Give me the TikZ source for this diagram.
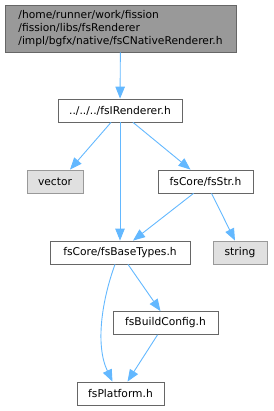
\documentclass[tikz,border=0pt]{standalone}
\usepackage{fontspec}
\setmainfont{DejaVu Sans}
\usetikzlibrary{arrows.meta}
\definecolor{edgeblue}{HTML}{63B8FF}
\definecolor{rootfill}{HTML}{999999}
\definecolor{sysfill}{HTML}{E0E0E0}
\definecolor{boxline}{HTML}{666666}
\begin{document}
\begin{tikzpicture}[x=1pt, y=-1pt,
    every node/.style={font=\fontsize{10.7}{12.8}\selectfont, inner sep=0pt, minimum height=23pt},
    header/.style={draw=boxline, fill=white, line width=0.8pt},
    rootbox/.style={header, fill=rootfill, align=left, minimum width=231pt, minimum height=47pt},
    sysbox/.style={draw=rootfill, fill=sysfill, line width=0.8pt},
    dep/.style={draw=edgeblue, line width=0.9pt, -{Triangle[length=12pt, width=9.5pt]}}]
      \useasboundingbox (0,0) rectangle (273,411);
      \node[rootbox] (root) at (120.5,28.5) {/home/runner/work/fission\\/fission/libs/fsRenderer\\/impl/bgfx/native/fsCNativeRenderer.h};
      \node[header, minimum width=124pt] (irend) at (120,110.5) {../../../fsIRenderer.h};
      \node[sysbox, minimum width=56pt] (vector) at (55,181.5) {vector};
      \node[header, minimum width=95pt] (fsstr) at (205.5,181.5) {fsCore/fsStr.h};
      \node[header, minimum width=140pt] (basetypes) at (120,252.5) {fsCore/fsBaseTypes.h};
      \node[sysbox, minimum width=54pt] (string) at (240,252.5) {string};
      \node[header, minimum width=105pt] (buildcfg) at (165.5,323) {fsBuildConfig.h};
      \node[header, minimum width=87pt] (platform) at (120.5,393.5) {fsPlatform.h};
      \draw[dep] (root) -- (irend);
      \draw[dep] ([xshift=-9]irend.south) -- ([xshift=15]vector.north);
      \draw[dep] (irend) -- (basetypes);
      \draw[dep] ([xshift=13]irend.south) -- ([xshift=-15]fsstr.north);
      \draw[dep] ([xshift=-12]fsstr.south) -- ([xshift=13]basetypes.north);
      \draw[dep] ([xshift=6]fsstr.south) -- ([xshift=-5]string.north);
      \draw[dep] ([xshift=8]basetypes.south) -- ([xshift=-5]buildcfg.north);
      \draw[dep] ([xshift=-5]basetypes.south) .. controls (102,300) and (95,345) .. ([xshift=-8]platform.north);
      \draw[dep] ([xshift=-8]buildcfg.south) -- ([xshift=7]platform.north);
    \end{tikzpicture}
\end{document}
